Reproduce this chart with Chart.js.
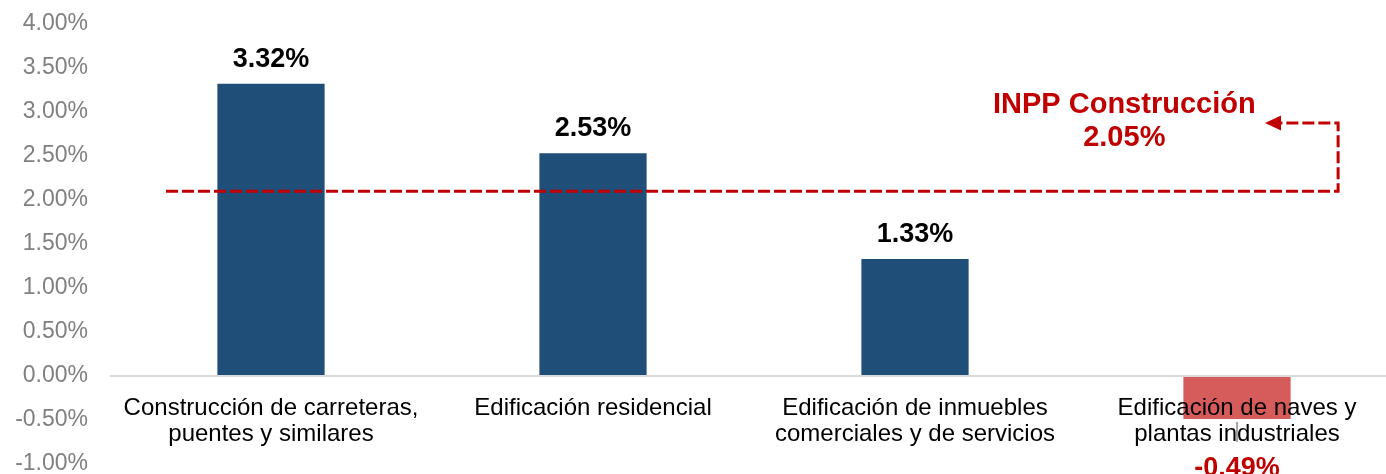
<!DOCTYPE html>
<html>
<head>
<meta charset="utf-8">
<script src="https://cdn.jsdelivr.net/npm/chart.js@4.4.1/dist/chart.umd.min.js"></script>
<style>
  html, body { margin: 0; padding: 0; background: #fff; overflow: hidden; }
  canvas { display: block; }
</style>
</head>
<body>
<canvas id="chart" width="1398" height="474"></canvas>
<script>
// data
const categories = [
  ["Construcción de carreteras,", "puentes y similares"],
  ["Edificación residencial"],
  ["Edificación de inmuebles", "comerciales y de servicios"],
  ["Edificación de naves y", "plantas industriales"]
]
const values = [3.32, 2.53, 1.33, -0.49]
const barColors = ["#1F4E79", "#1F4E79", "#1F4E79", "#D65B5B"]
const inppLabel = "INPP Construcción"
const inppValue = 2.05
const inppLineLevel = 2.1 // where the dashed line sits in the picture

const RED = "#C00000"
const FONT = "'Liberation Sans', Arial, sans-serif"

const fmt = (v) => v.toFixed(2) + "%"

// category names under the zero line, drawn over the bars
const categoryLabels = {
  id: "categoryLabels",
  afterDatasetsDraw(chart) {
    const ctx = chart.ctx
    const x = chart.scales.x
    const y0 = chart.scales.y.getPixelForValue(0)
    ctx.save()
    ctx.font = "24px " + FONT
    ctx.fillStyle = "#000"
    ctx.textAlign = "center"
    ctx.textBaseline = "alphabetic"
    categories.forEach((lines, i) => {
      const cx = x.getPixelForValue(i)
      lines.forEach((line, j) => ctx.fillText(line, cx, y0 + 39 + j * 26))
    })
    ctx.restore()
  }
}

// value labels over (or under) the bars
const valueLabels = {
  id: "valueLabels",
  afterDraw(chart) {
    const ctx = chart.ctx
    const meta = chart.getDatasetMeta(0)
    ctx.save()
    ctx.font = "bold 27px " + FONT
    ctx.textAlign = "center"
    ctx.textBaseline = "alphabetic"
    meta.data.forEach((bar, i) => {
      const v = values[i]
      if (v >= 0) {
        ctx.fillStyle = "#000"
        ctx.fillText(fmt(v), bar.x, bar.y - 17)
      } else {
        ctx.fillStyle = RED
        ctx.fillText(fmt(v), bar.x, bar.y + 57)
        // small leader line
        ctx.strokeStyle = "#A6A6A6"
        ctx.lineWidth = 2
        ctx.beginPath()
        ctx.moveTo(bar.x, bar.y + 3)
        ctx.lineTo(bar.x, bar.y + 23)
        ctx.stroke()
      }
    })
    ctx.restore()
  }
}

// dashed reference line with arrow + label
const refLine = {
  id: "refLine",
  afterDraw(chart) {
    const ctx = chart.ctx
    const x = chart.scales.x
    const y = chart.scales.y
    const yl = y.getPixelForValue(inppLineLevel)
    const x0 = x.getPixelForValue(-0.326)
    const x1 = x.getPixelForValue(3.314)
    const yTop = y.getPixelForValue(2.875)
    const xTip = x.getPixelForValue(3.087)
    ctx.save()
    ctx.strokeStyle = RED
    ctx.fillStyle = RED
    ctx.lineWidth = 3
    ctx.setLineDash([12, 4])
    ctx.beginPath()
    ctx.moveTo(x0, yl)
    ctx.lineTo(x1, yl)
    ctx.lineTo(x1, yTop)
    ctx.lineTo(xTip + 15, yTop)
    ctx.stroke()
    ctx.setLineDash([])
    ctx.beginPath()
    ctx.moveTo(xTip, yTop)
    ctx.lineTo(xTip + 16, yTop - 7.5)
    ctx.lineTo(xTip + 16, yTop + 7.5)
    ctx.closePath()
    ctx.fill()

    ctx.font = "bold 29px " + FONT
    ctx.textAlign = "center"
    ctx.textBaseline = "middle"
    const cx = x.getPixelForValue(2.65)
    ctx.fillText(inppLabel, cx, y.getPixelForValue(3.08))
    ctx.fillText(fmt(inppValue), cx, y.getPixelForValue(2.70))
    ctx.restore()
  }
}

new Chart(document.getElementById("chart"), {
  type: "bar",
  data: {
    labels: categories,
    datasets: [{
      data: values,
      backgroundColor: barColors,
      barPercentage: 1,
      categoryPercentage: 0.333
    }]
  },
  options: {
    responsive: false,
    animation: false,
    layout: {
      autoPadding: false,
      padding: { top: 24, bottom: 10, left: 0, right: 0 }
    },
    plugins: {
      legend: { display: false },
      tooltip: { enabled: false }
    },
    scales: {
      x: { display: false },
      y: {
        min: -1,
        max: 4,
        afterFit: (scale) => {
          scale.width = 110
          scale.paddingTop = 0
          scale.paddingBottom = 0
        },
        grid: {
          drawTicks: false,
          lineWidth: 2,
          color: (c) => (c.tick && c.tick.value === 0 ? "#D9D9D9" : "rgba(0,0,0,0)")
        },
        border: { display: false },
        ticks: {
          stepSize: 0.5,
          padding: 22,
          color: "#808080",
          font: { size: 23, family: FONT },
          callback: (value) => fmt(value)
        }
      }
    }
  },
  plugins: [categoryLabels, valueLabels, refLine]
})
</script>
</body>
</html>
